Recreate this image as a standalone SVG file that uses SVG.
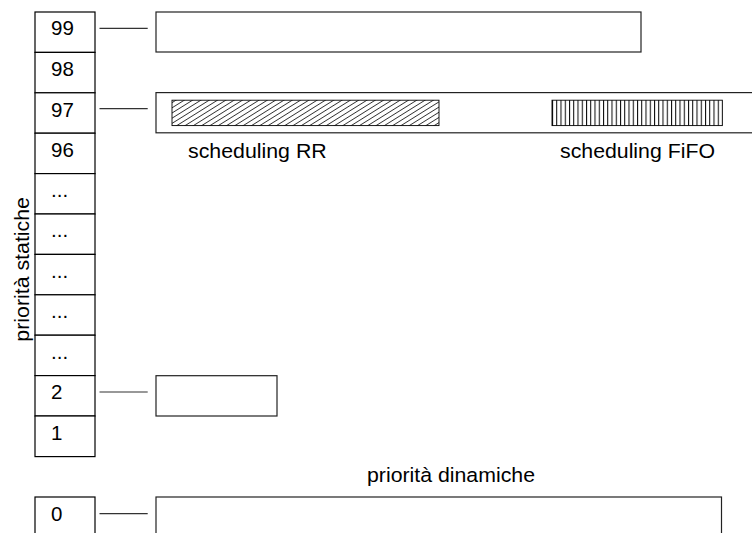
<svg xmlns="http://www.w3.org/2000/svg" width="752" height="533" viewBox="0 0 752 533">
  <style>
    .cell { fill: #ffffff; stroke: #000000; stroke-width: 1.2; }
    .box { fill: #ffffff; stroke: #222222; stroke-width: 1.2; }
    .lbl { font-family: "Liberation Sans", Arial, sans-serif; font-size: 20.5px; fill: #000000; }
    .conn { stroke: #333333; stroke-width: 1.2; fill: none; }
  </style>
  <defs>
    <pattern id="diag" patternUnits="userSpaceOnUse" width="20" height="4.4" patternTransform="rotate(-32)">
      <line x1="0" y1="2.2" x2="20" y2="2.2" stroke="#000" stroke-width="0.75"/>
    </pattern>
    <pattern id="vert" patternUnits="userSpaceOnUse" x="552" y="0" width="4.25" height="20">
      <line x1="0.5" y1="0" x2="0.5" y2="20" stroke="#000" stroke-width="1"/>
    </pattern>
  </defs>
  <rect width="752" height="533" fill="#ffffff"/>

  <g id="col-99"><rect class="cell" x="35" y="12" width="60" height="40.4"/><text class="lbl" x="51" y="35">99</text></g>
  <g id="col-98"><rect class="cell" x="35" y="52.4" width="60" height="40.4"/><text class="lbl" x="51" y="75.8">98</text></g>
  <g id="col-97"><rect class="cell" x="35" y="92.8" width="60" height="40.4"/><text class="lbl" x="51" y="116.5">97</text></g>
  <g id="col-96"><rect class="cell" x="35" y="133.2" width="60" height="40.4"/><text class="lbl" x="51" y="156.8">96</text></g>
  <g id="col-d1"><rect class="cell" x="35" y="173.6" width="60" height="40.4"/><text class="lbl" x="51" y="197">...</text></g>
  <g id="col-d2"><rect class="cell" x="35" y="214" width="60" height="40.4"/><text class="lbl" x="51" y="237.4">...</text></g>
  <g id="col-d3"><rect class="cell" x="35" y="254.4" width="60" height="40.4"/><text class="lbl" x="51" y="277.8">...</text></g>
  <g id="col-d4"><rect class="cell" x="35" y="294.8" width="60" height="40.4"/><text class="lbl" x="51" y="318.2">...</text></g>
  <g id="col-d5"><rect class="cell" x="35" y="335.2" width="60" height="40.4"/><text class="lbl" x="51" y="358.6">...</text></g>
  <g id="col-2"><rect class="cell" x="35" y="375.6" width="60" height="40.4"/><text class="lbl" x="51" y="399.3">2</text></g>
  <g id="col-1"><rect class="cell" x="35" y="416" width="60" height="40.6"/><text class="lbl" x="51" y="439.6">1</text></g>
  <g id="col-0"><rect class="cell" x="35" y="497" width="60" height="50"/><text class="lbl" x="51" y="520.5">0</text></g>

  <g id="queue-99"><rect class="box" x="156" y="12" width="485" height="40"/></g>
  <g id="queue-97">
    <rect class="box" x="156" y="92.6" width="610" height="40.2"/>
    <rect x="172" y="100.2" width="267" height="25.4" fill="url(#diag)" stroke="#000" stroke-width="0.9"/>
    <rect x="552" y="100.2" width="170.3" height="25.4" fill="url(#vert)" stroke="#000" stroke-width="0.9"/>
  </g>
  <g id="queue-2"><rect class="box" x="156" y="375.7" width="121" height="40.3"/></g>
  <g id="queue-0"><rect class="box" x="156" y="497" width="565.5" height="50"/></g>

  <g id="connectors">
    <line class="conn" x1="99.5" y1="28.3" x2="147.7" y2="28.3"/>
    <line class="conn" x1="99.5" y1="108.7" x2="147.7" y2="108.7"/>
    <line class="conn" x1="99.5" y1="392" x2="147.7" y2="392"/>
    <line class="conn" x1="99.5" y1="513.7" x2="147.7" y2="513.7"/>
  </g>

  <g id="labels">
    <text class="lbl" x="188" y="158.3" textLength="138.7" lengthAdjust="spacingAndGlyphs">scheduling RR</text>
    <text class="lbl" x="560" y="158" textLength="155" lengthAdjust="spacingAndGlyphs">scheduling FiFO</text>
    <text class="lbl" x="367" y="481.7" textLength="168" lengthAdjust="spacingAndGlyphs">priorità dinamiche</text>
    <text class="lbl" transform="translate(28.5,341.7) rotate(-90)" x="0" y="0" textLength="144.7" lengthAdjust="spacingAndGlyphs">priorità statiche</text>
  </g>
</svg>
